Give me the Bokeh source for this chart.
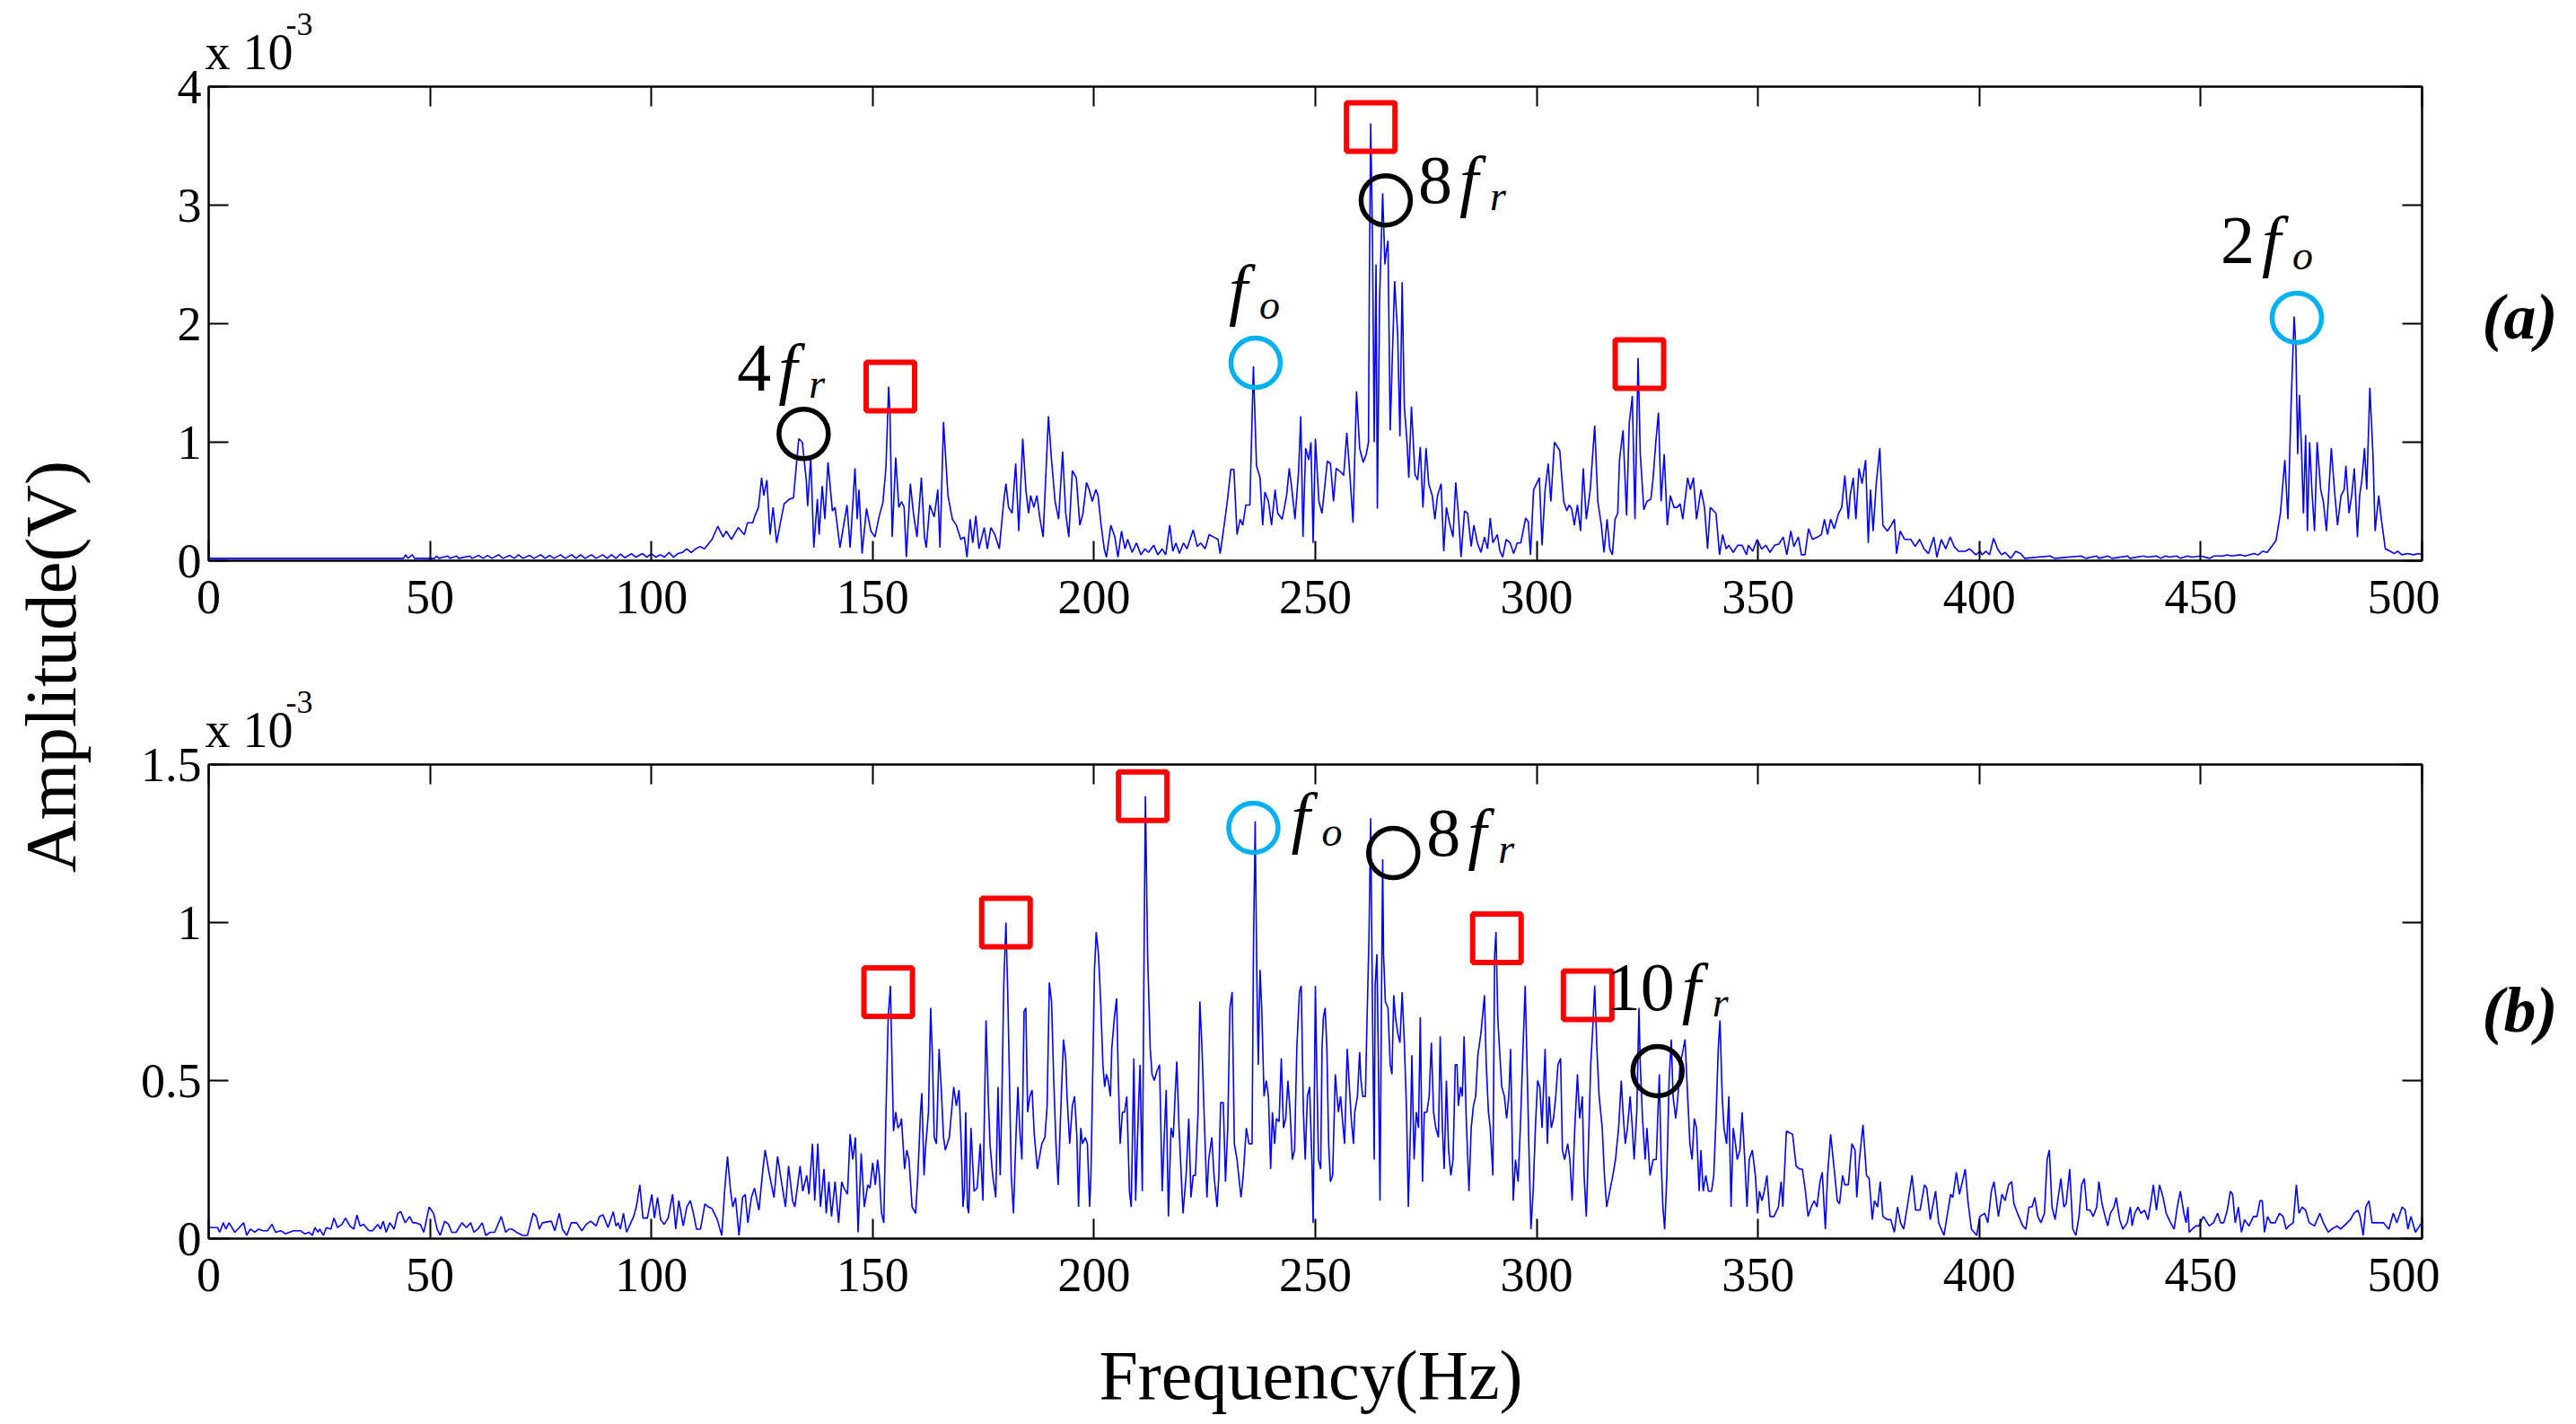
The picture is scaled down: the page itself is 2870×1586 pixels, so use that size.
from bokeh.plotting import figure
from bokeh.layouts import row, column
from bokeh.models import Range1d, FixedTicker, LinearAxis, Title, CustomJSTickFormatter
from bokeh.core.properties import value
from bokeh.embed import file_html
from bokeh.resources import INLINE

SERIF = "Liberation Serif"

# spectrum (a): frequency in Hz, amplitude in units of 1e-3 V
freq_a = [
    0, 44, 44.5, 45, 46, 46.5, 51, 51.5, 52, 54,
    54.5, 56, 56.5, 59, 59.5, 61, 62, 63, 64, 65.5,
    66.5, 68, 69, 70, 71, 72.5, 73.5, 75, 76, 77,
    78, 79.5, 80.5, 82, 83, 84, 85, 86.5, 87.5, 89,
    90, 91, 92, 93, 94, 95.5, 96.5, 98, 99, 100,
    101, 102, 103, 104, 105, 106, 107, 108, 109, 110,
    111, 112, 113.7, 115.0, 116.2, 116.9, 118.1, 119.6, 121.0, 121.7,
    122.9, 123.4, 124.2, 124.9, 125.4, 126.1, 126.8, 127.5, 128.3, 129.2,
    130.0, 131.2, 132.1, 133.3, 134.1, 135.0, 135.3, 136.0, 136.7, 137.5,
    137.9, 138.6, 139.2, 139.9, 140.9, 141.5, 142.6, 144.2, 144.9, 146.0,
    146.5, 146.9, 147.6, 148.6, 149.6, 150.5, 151.5, 152.3, 153.0, 153.6,
    153.9, 154.4, 155.2, 155.9, 156.5, 157.1, 157.6, 158.5, 159.2, 160.0,
    161.0, 161.7, 162.1, 162.9, 163.9, 164.7, 165.2, 166.0, 167.0, 168.0,
    168.9, 169.9, 170.7, 171.3, 172.0, 172.6, 173.3, 174.0, 175.2, 175.9,
    176.7, 177.6, 178.6, 179.6, 180.1, 180.7, 181.5, 182.3, 183.0, 183.9,
    184.6, 185.2, 185.7, 186.4, 187.1, 187.8, 188.5, 189.7, 190.4, 191.2,
    192.0, 192.9, 193.6, 194.3, 195.1, 196.0, 196.8, 197.5, 198.3, 198.9,
    199.6, 200.4, 200.9, 201.6, 202.3, 202.8, 203.8, 204.7, 205.4, 206.2,
    207.0, 207.6, 208.6, 209.6, 210.6, 211.5, 212.3, 213.5, 214.4, 215.4,
    216.2, 217.1, 217.8, 218.5, 219.3, 220.2, 221.0, 222.4, 223.3, 224.1,
    225.1, 226.0, 227.0, 228.0, 228.5, 229.4, 230.1, 230.9, 231.6, 232.3,
    233.0, 233.6, 234.3, 235.2, 236.0, 236.7, 237.5, 238.1, 238.6, 239.4,
    240.1, 240.9, 241.5, 242.5, 243.5, 244.1, 244.7, 245.4, 246.2, 246.7,
    247.2, 247.8, 248.5, 249.0, 249.5, 250.0, 250.8, 251.5, 252.7, 253.4,
    254.1, 254.7, 255.7, 256.4, 257.1, 257.8, 258.5, 259.3, 260.0, 260.8,
    261.5, 262.0, 262.2, 262.5, 262.9, 263.3, 263.7, 264.0, 264.5, 265.2,
    265.7, 266.0, 266.4, 266.9, 267.9, 268.6, 269.1, 269.6, 270.1, 270.7,
    271.1, 271.7, 272.5, 273.1, 273.7, 274.3, 275.0, 275.6, 276.4, 277.0,
    277.6, 278.4, 279.0, 279.6, 280.3, 281.1, 281.7, 282.3, 282.9, 283.7,
    284.4, 285.2, 285.8, 286.6, 287.4, 288.2, 288.9, 289.5, 290.1, 291.1,
    291.7, 292.3, 293.1, 294.0, 294.8, 295.6, 296.4, 297.5, 298.1, 298.6,
    299.3, 300.6, 301.2, 301.9, 302.6, 303.2, 304.0, 305.2, 306.1, 306.8,
    307.3, 307.9, 308.5, 309.2, 309.9, 310.5, 311.2, 312.1, 313.1, 313.8,
    314.6, 315.2, 315.9, 316.5, 317.1, 317.7, 318.3, 318.7, 319.5, 320.3,
    320.9, 321.6, 322.2, 322.9, 323.4, 324.2, 324.9, 325.8, 326.3, 326.9,
    327.5, 328.1, 328.8, 329.5, 330.2, 331.0, 331.7, 332.4, 333.0, 334.1,
    334.7, 335.4, 336.1, 337.1, 337.9, 338.6, 339.2, 340.5, 341.3, 342.0,
    342.8, 343.4, 344.4, 345.4, 346.4, 347.4, 347.8, 348.8, 349.8, 350.8,
    351.8, 352.7, 353.7, 354.7, 355.7, 356.5, 357.4, 358.1, 359.1, 359.8,
    360.6, 361.4, 362.3, 363.5, 364.3, 365.0, 365.7, 366.4, 367.2, 368.2,
    368.9, 369.6, 370.4, 370.8, 371.5, 372.1, 372.8, 373.5, 374.3, 374.9,
    375.4, 376.0, 376.7, 377.5, 378.2, 379.2, 380.1, 380.8, 381.3, 382.1,
    383.1, 384.5, 385.5, 386.5, 387.5, 388.5, 389.7, 390.4, 391.4, 392.4,
    393.4, 394.3, 395.3, 396.8, 397.8, 399.2, 400.2, 400.6, 401.5, 402.3,
    403.2, 404.1, 405.0, 405.8, 407.1, 408.2, 409.3, 410.2, 416, 417,
    423, 424, 426.5, 427, 429, 430, 433.5, 434, 437, 438,
    440, 441, 442, 443, 444.5, 445.5, 447, 448, 450, 452,
    453, 455, 456, 457, 459, 460, 462, 463, 464, 465,
    466, 467, 468.0, 469.0, 469.7, 470.4, 471.1, 471.5, 471.9, 472.3,
    472.8, 473.2, 473.7, 474.1, 474.6, 475.1, 475.7, 476.3, 477.1, 477.7,
    478.4, 479.5, 480.2, 480.9, 481.7, 482.4, 482.8, 483.5, 484.1, 484.7,
    485.4, 485.9, 486.4, 487.0, 487.5, 488.2, 488.9, 489.4, 490.2, 490.8,
    491.7, 492.8, 493.7, 494.5, 495.4, 496.7, 498.0, 499.3, 500,
]
amp_a = [
    0.02, 0.02, 0.05, 0.02, 0.05, 0.02, 0.02, 0.04, 0.02, 0.04,
    0.02, 0.04, 0.02, 0.04, 0.02, 0.045, 0.02, 0.045, 0.02, 0.05,
    0.02, 0.045, 0.02, 0.05, 0.02, 0.045, 0.02, 0.05, 0.02, 0.045,
    0.02, 0.05, 0.02, 0.05, 0.02, 0.05, 0.02, 0.05, 0.02, 0.05,
    0.02, 0.05, 0.02, 0.055, 0.025, 0.06, 0.03, 0.06, 0.03, 0.06,
    0.03, 0.05, 0.03, 0.07, 0.03, 0.06, 0.07, 0.1, 0.07, 0.1,
    0.12, 0.1, 0.18, 0.29, 0.2, 0.25, 0.18, 0.28, 0.22, 0.32,
    0.32, 0.38, 0.45, 0.7, 0.55, 0.68, 0.22, 0.45, 0.15, 0.33,
    0.48, 0.52, 0.53, 1.03, 1.0, 0.68, 0.46, 0.87, 0.11, 0.52,
    0.22, 0.63, 0.35, 0.83, 0.42, 0.45, 0.11, 0.47, 0.11, 0.78,
    0.35, 0.6, 0.06, 0.44, 0.25, 0.2, 0.38, 0.49, 0.79, 1.47,
    1.25, 0.2, 0.87, 0.45, 0.5, 0.45, 0.03, 0.65, 0.4, 0.2,
    0.7, 0.2, 0.11, 0.47, 0.37, 0.6, 0.11, 1.17, 0.55, 0.35,
    0.3, 0.18, 0.2, 0.03, 0.35, 0.15, 0.38, 0.1, 0.28, 0.1,
    0.28, 0.22, 0.1, 0.5, 0.65, 0.45, 0.4, 0.82, 0.25, 1.03,
    0.6, 0.4, 0.55, 0.45, 0.55, 0.35, 0.2, 1.22, 0.85, 0.5,
    0.35, 0.92, 0.4, 0.2, 0.76, 0.7, 0.3, 0.4, 0.66, 0.6,
    0.5, 0.6, 0.55, 0.3, 0.1, 0.03, 0.3, 0.2, 0.03, 0.25,
    0.1, 0.18, 0.07, 0.15, 0.05, 0.1, 0.07, 0.13, 0.05, 0.1,
    0.05, 0.3, 0.08, 0.15, 0.06, 0.15, 0.1, 0.26, 0.12, 0.15,
    0.1, 0.22, 0.2, 0.18, 0.06, 0.3, 0.5, 0.77, 0.77, 0.22,
    0.35, 0.3, 0.47, 0.47, 1.64, 0.8, 0.7, 0.3, 0.58, 0.5,
    0.3, 0.6, 0.4, 0.35, 0.55, 0.78, 0.6, 0.35, 0.75, 1.22,
    0.2, 0.95, 0.85, 1.0, 0.15, 1.03, 0.5, 0.4, 0.84, 0.82,
    0.5, 0.78, 0.75, 0.72, 1.08, 0.72, 0.32, 1.43, 0.95, 0.83,
    0.9, 1.0, 2.4, 3.69, 2.7, 1.0, 2.5, 0.44, 2.2, 3.1,
    2.5, 2.6, 2.7, 1.1, 2.36, 1.9, 1.05, 2.35, 1.3, 1.0,
    0.7, 1.3, 0.73, 0.68, 0.96, 0.45, 0.95, 0.65, 0.55, 0.35,
    0.55, 0.65, 0.08, 0.45, 0.32, 0.2, 0.66, 0.4, 0.03, 0.42,
    0.4, 0.12, 0.3, 0.15, 0.07, 0.2, 0.1, 0.36, 0.15, 0.22,
    0.08, 0.03, 0.18, 0.15, 0.06, 0.15, 0.15, 0.36, 0.33, 0.05,
    0.6, 0.7, 0.13, 0.6, 0.82, 0.5, 1.0, 0.93, 0.5, 0.42,
    0.47, 0.44, 0.3, 0.47, 0.25, 0.78, 0.35, 0.6, 1.14, 0.5,
    0.3, 0.07, 0.35, 0.1, 0.05, 0.35, 0.4, 0.85, 1.1, 0.38,
    1.16, 1.39, 0.35, 1.71, 0.9, 0.43, 0.5, 0.52, 0.7, 1.0,
    1.25, 0.5, 0.9, 0.3, 0.55, 0.45, 0.45, 0.48, 0.35, 0.7,
    0.6, 0.7, 0.35, 0.6, 0.45, 0.1, 0.45, 0.4, 0.05, 0.22,
    0.1, 0.13, 0.07, 0.13, 0.13, 0.05, 0.13, 0.08, 0.18, 0.1,
    0.13, 0.07, 0.13, 0.14, 0.2, 0.05, 0.25, 0.12, 0.2, 0.05,
    0.05, 0.27, 0.18, 0.2, 0.22, 0.35, 0.22, 0.35, 0.27, 0.4,
    0.45, 0.72, 0.35, 0.55, 0.7, 0.35, 0.78, 0.65, 0.85, 0.15,
    0.6, 0.25, 0.65, 0.95, 0.3, 0.25, 0.3, 0.35, 0.06, 0.25,
    0.18, 0.18, 0.12, 0.18, 0.1, 0.06, 0.2, 0.03, 0.18, 0.1,
    0.2, 0.12, 0.08, 0.08, 0.1, 0.05, 0.08, 0.05, 0.08, 0.05,
    0.19, 0.1, 0.05, 0.07, 0.02, 0.08, 0.06, 0.02, 0.04, 0.02,
    0.04, 0.02, 0.04, 0.02, 0.04, 0.02, 0.04, 0.02, 0.04, 0.03,
    0.04, 0.02, 0.04, 0.03, 0.04, 0.02, 0.04, 0.03, 0.04, 0.02,
    0.04, 0.04, 0.05, 0.04, 0.05, 0.04, 0.06, 0.05, 0.08, 0.07,
    0.12, 0.17, 0.4, 0.85, 0.35, 1.3, 2.06, 1.8, 0.9, 1.4,
    0.9, 0.4, 1.06, 0.25, 1.0, 0.6, 0.25, 1.0, 0.6, 0.5,
    0.25, 0.95, 0.6, 0.3, 0.55, 0.6, 0.8, 0.4, 0.55, 0.78,
    0.2, 0.55, 0.68, 0.95, 0.6, 1.46, 0.9, 0.25, 0.55, 0.35,
    0.1, 0.08, 0.06, 0.08, 0.05, 0.06, 0.05, 0.06, 0.05,
]

# spectrum (b)
freq_b = [
    0, 2.0, 2.5, 3.3, 3.9, 4.6, 5.9, 6.9, 7.9, 8.6,
    9.4, 10.4, 11.3, 12.3, 13.3, 14.3, 15.1, 16.3, 17.3, 18.2,
    19.2, 20.7, 21.7, 22.7, 23.4, 24.0, 24.7, 25.1, 25.9, 26.6,
    27.6, 28.3, 29.1, 30.1, 30.9, 31.9, 32.8, 33.5, 34.2, 35.0,
    36.2, 37.0, 38.2, 38.8, 39.4, 40.1, 40.9, 41.9, 42.7, 43.4,
    44.4, 45.4, 46.1, 46.8, 47.8, 48.6, 49.8, 50.8, 51.6, 52.3,
    53.3, 54.2, 54.9, 55.9, 57.2, 58.2, 59.2, 59.9, 60.8, 61.8,
    62.6, 63.6, 64.6, 66.1, 67.1, 67.8, 68.5, 69.5, 71.0, 72.0,
    73.3, 74.0, 74.7, 75.4, 77.4, 78.2, 79.2, 79.9, 80.9, 81.9,
    83.1, 84.3, 85.3, 86.3, 87.5, 88.3, 89.1, 90.2, 91.4, 92.0,
    92.5, 93.0, 93.7, 94.4, 95.2, 96.0, 96.6, 97.4, 98.1, 99.1,
    100.1, 100.7, 101.4, 102.1, 102.9, 103.8, 104.8, 105.5, 106.2, 107.2,
    108.0, 108.8, 109.5, 110.2, 111.1, 112.1, 112.9, 113.7, 114.9, 115.9,
    116.6, 117.2, 117.9, 118.4, 119.0, 119.8, 120.6, 121.2, 121.8, 122.6,
    123.3, 124.3, 125.2, 125.7, 126.7, 127.7, 128.5, 129.5, 130.3, 131.0,
    131.9, 132.4, 133.6, 134.2, 135.1, 135.6, 136.4, 136.9, 137.6, 138.2,
    139.0, 139.5, 140.1, 140.7, 141.5, 142.3, 143.0, 143.5, 144.3, 144.9,
    145.5, 146.1, 146.7, 147.4, 148.1, 148.9, 149.4, 150.0, 150.6, 151.1,
    151.5, 152.0, 152.5, 153.0, 153.5, 154.0, 154.3, 154.7, 155.2, 155.7,
    156.2, 156.5, 157.2, 157.7, 158.2, 158.9, 159.7, 160.2, 160.8, 161.1,
    161.6, 161.9, 162.6, 163.1, 163.5, 163.9, 164.4, 165.0, 165.5, 166.0,
    166.4, 167.3, 167.8, 168.3, 168.9, 169.5, 170.0, 170.4, 170.7, 171.0,
    171.4, 171.7, 172.2, 172.9, 173.6, 174.3, 174.9, 175.6, 176.1, 176.5,
    177.1, 177.8, 178.3, 178.8, 179.2, 179.6, 180.1, 180.5, 180.9, 181.3,
    181.8, 182.3, 182.8, 183.2, 183.7, 184.2, 184.6, 185.0, 185.5, 186.0,
    186.5, 187.2, 188.2, 188.9, 189.4, 189.9, 190.4, 190.9, 191.4, 191.9,
    192.6, 193.1, 193.6, 193.9, 194.5, 195.1, 195.6, 196.1, 196.5, 197.0,
    197.4, 198.0, 198.5, 199.0, 199.3, 199.8, 200.1, 200.5, 201.0, 201.5,
    202.0, 202.4, 202.8, 203.2, 203.7, 204.0, 204.6, 205.1, 205.5, 205.9,
    206.4, 206.9, 207.4, 208.0, 208.4, 209.0, 209.4, 210.0, 210.4, 210.9,
    211.3, 211.6, 211.8, 212.1, 212.7, 213.1, 213.6, 214.2, 214.8, 215.4,
    215.8, 216.3, 216.8, 217.4, 217.9, 218.3, 218.7, 219.2, 219.7, 220.1,
    220.8, 221.4, 221.9, 222.4, 222.9, 223.5, 223.9, 224.4, 224.9, 225.5,
    225.9, 226.6, 227.1, 227.8, 228.2, 228.6, 229.2, 229.7, 230.2, 230.7,
    231.2, 231.7, 232.3, 233.2, 233.7, 234.4, 235.0, 235.7, 236.0, 236.4,
    236.8, 237.1, 237.5, 237.9, 238.4, 238.9, 239.4, 239.9, 240.3, 240.8,
    241.2, 241.8, 242.3, 242.8, 243.3, 243.8, 244.3, 244.8, 245.3, 245.8,
    246.4, 246.8, 247.3, 247.7, 248.2, 248.7, 249.2, 249.5, 250.0, 250.3,
    250.7, 251.2, 251.5, 251.8, 252.2, 252.6, 253.0, 253.4, 253.9, 254.5,
    254.9, 255.2, 255.7, 256.1, 256.6, 256.9, 257.2, 257.6, 258.1, 258.6,
    258.9, 259.5, 260.0, 260.3, 260.7, 261.3, 261.6, 262.1, 262.5, 262.7,
    263.0, 263.3, 263.5, 263.9, 264.2, 264.6, 264.9, 265.2, 265.4, 265.8,
    266.4, 266.9, 267.3, 267.7, 268.1, 268.6, 269.1, 269.6, 270.1, 270.6,
    271.0, 271.5, 271.8, 272.3, 272.8, 273.3, 273.7, 274.2, 274.6, 275.2,
    275.7, 276.2, 276.7, 277.2, 277.8, 278.2, 278.7, 279.1, 279.6, 280.1,
    280.6, 281.1, 281.6, 282.0, 282.3, 282.8, 283.2, 283.6, 284.1, 284.7,
    285.2, 285.7, 286.2, 286.7, 287.4, 288.2, 288.6, 289.1, 289.5, 290.1,
    290.5, 290.8, 291.2, 291.6, 292.1, 292.7, 293.2, 293.7, 294.1, 294.7,
    295.2, 295.8, 296.3, 296.9, 297.4, 297.9, 298.3, 298.7, 299.2, 299.7,
    300.2, 300.7, 301.2, 301.9, 302.4, 302.8, 303.3, 303.8, 304.3, 304.8,
    305.4, 305.8, 306.3, 307.0, 307.5, 308.0, 308.6, 309.2, 309.7, 310.3,
    310.7, 311.2, 311.7, 312.2, 312.6, 313.1, 313.6, 314.1, 314.8, 315.3,
    315.8, 316.5, 317.2, 317.8, 318.5, 319.1, 319.5, 320.0, 320.5, 321.1,
    321.6, 322.0, 322.6, 323.1, 323.4, 323.9, 324.5, 324.9, 325.6, 326.3,
    327.0, 327.7, 328.1, 328.5, 328.9, 329.4, 329.9, 330.4, 330.8, 331.4,
    331.9, 332.4, 333.1, 333.5, 334.1, 334.6, 335.1, 335.6, 336.1, 336.7,
    337.1, 337.6, 338.2, 338.8, 339.5, 340.0, 340.5, 341.0, 341.4, 341.9,
    342.3, 342.9, 343.4, 343.9, 344.4, 344.9, 345.3, 345.9, 346.4, 347.0,
    347.5, 348.0, 348.7, 349.4, 349.9, 350.3, 350.9, 351.4, 352.0, 352.7,
    353.6, 354.6, 355.2, 355.6, 356.4, 357.8, 358.6, 359.4, 360.0, 360.7,
    361.3, 362.0, 362.7, 363.3, 364.0, 364.5, 365.2, 365.7, 366.4, 367.2,
    367.9, 368.4, 369.1, 369.6, 370.4, 371.2, 371.9, 372.3, 372.9, 373.7,
    374.5, 375.1, 375.8, 376.3, 377.0, 377.6, 378.2, 379.2, 380.0, 380.8,
    381.5, 382.2, 382.9, 383.7, 384.8, 385.6, 386.6, 387.6, 388.1, 388.9,
    390.1, 390.8, 392.0, 393.5, 394.0, 394.8, 395.5, 396.8, 397.4, 398.2,
    399.4, 400.1, 401.2, 401.9, 402.7, 403.3, 404.3, 405.1, 405.8, 406.6,
    407.3, 407.8, 408.6, 409.8, 410.5, 411.2, 411.9, 412.5, 413.2, 413.9,
    414.7, 415.3, 415.8, 416.4, 417.1, 417.8, 418.4, 419.1, 419.6, 420.4,
    421.1, 421.8, 422.5, 423.1, 423.7, 424.3, 425.0, 425.7, 426.5, 427.0,
    427.7, 428.4, 429.0, 429.6, 430.4, 430.9, 431.7, 432.4, 433.4, 434.1,
    434.5, 435.1, 435.8, 436.5, 437.3, 438.1, 438.8, 439.3, 440.0, 440.7,
    441.5, 442.2, 443.2, 444.0, 444.7, 445.4, 446.2, 446.7, 447.1, 447.4,
    448.1, 448.9, 449.6, 450.6, 451.9, 452.9, 453.8, 454.5, 455.2, 456.0,
    456.7, 457.2, 457.8, 458.5, 459.2, 459.9, 460.9, 461.9, 462.7, 463.4,
    463.9, 464.4, 465.1, 465.8, 466.8, 467.8, 468.6, 469.3, 469.9, 470.9,
    471.6, 472.2, 472.9, 473.7, 474.5, 475.7, 476.9, 477.7, 478.8, 479.6,
    480.8, 481.6, 483.1, 483.8, 484.6, 485.5, 486.0, 486.7, 487.3, 488.0,
    488.7, 490.0, 491.3, 492.5, 493.5, 494.3, 495.5, 496.2, 496.8, 497.5,
    498.5, 499.9, 500,
]
amp_b = [
    0.035, 0.035, 0.02, 0.05, 0.03, 0.05, 0.02, 0.035, 0.05, 0.01,
    0.03, 0.02, 0.03, 0.025, 0.025, 0.045, 0.02, 0.025, 0.015, 0.02,
    0.025, 0.025, 0.015, 0.02, 0.01, 0.035, 0.02, 0.03, 0.01, 0.035,
    0.03, 0.065, 0.035, 0.045, 0.065, 0.04, 0.03, 0.075, 0.04, 0.045,
    0.025, 0.025, 0.045, 0.03, 0.055, 0.02, 0.05, 0.03, 0.08, 0.085,
    0.05, 0.07, 0.05, 0.05, 0.045, 0.02, 0.1, 0.08, 0.03, 0.01,
    0.055, 0.045, 0.02, 0.02, 0.05, 0.035, 0.05, 0.02, 0.03, 0.05,
    0.01, 0.02, 0.02, 0.07, 0.02, 0.03, 0.03, 0.02, 0.01, 0.01,
    0.08, 0.07, 0.03, 0.05, 0.055, 0.025, 0.08, 0.03, 0.01, 0.05,
    0.05, 0.025, 0.045, 0.055, 0.04, 0.07, 0.075, 0.035, 0.085, 0.04,
    0.05, 0.03, 0.08, 0.02, 0.045, 0.07, 0.1, 0.17, 0.065, 0.065,
    0.14, 0.065, 0.13, 0.06, 0.045, 0.065, 0.14, 0.03, 0.12, 0.04,
    0.1, 0.12, 0.08, 0.03, 0.03, 0.11, 0.1, 0.095, 0.06, 0.01,
    0.16, 0.26, 0.15, 0.1, 0.13, 0.01, 0.13, 0.14, 0.05, 0.13,
    0.16, 0.09, 0.22, 0.28, 0.2, 0.13, 0.26, 0.17, 0.1, 0.23,
    0.12, 0.1, 0.23, 0.15, 0.2, 0.14, 0.3, 0.12, 0.3, 0.1,
    0.22, 0.08, 0.18, 0.07, 0.18, 0.05, 0.18, 0.16, 0.14, 0.33,
    0.25, 0.32, 0.02, 0.27, 0.1, 0.17, 0.16, 0.24, 0.17, 0.25,
    0.2, 0.08, 0.05, 0.4, 0.7, 0.8, 0.6, 0.34, 0.4, 0.35,
    0.36, 0.38, 0.22, 0.28, 0.25, 0.1, 0.08, 0.2, 0.4, 0.46,
    0.2, 0.28, 0.4, 0.73, 0.57, 0.32, 0.3, 0.6, 0.47, 0.32,
    0.28, 0.32, 0.4, 0.48, 0.42, 0.47, 0.3, 0.1, 0.15, 0.4,
    0.1, 0.08, 0.35, 0.15, 0.16, 0.3, 0.12, 0.69, 0.45, 0.3,
    0.2, 0.13, 0.48, 0.2, 0.45, 0.8, 1.0, 0.78, 0.5, 0.2,
    0.08, 0.3, 0.48, 0.35, 0.25, 0.72, 0.73, 0.4, 0.45, 0.47,
    0.33, 0.22, 0.3, 0.32, 0.42, 0.81, 0.75, 0.5, 0.3, 0.17,
    0.45, 0.63, 0.57, 0.45, 0.3, 0.42, 0.45, 0.33, 0.1, 0.35,
    0.3, 0.32, 0.3, 0.1, 0.2, 0.6, 0.85, 0.97, 0.9, 0.75,
    0.55, 0.48, 0.52, 0.5, 0.45, 0.6, 0.7, 0.76, 0.5, 0.3,
    0.4, 0.4, 0.45, 0.15, 0.1, 0.57, 0.12, 0.4, 0.55, 0.15,
    0.9, 1.4, 1.2, 0.9, 0.6, 0.52, 0.5, 0.53, 0.55, 0.15,
    0.3, 0.47, 0.07, 0.35, 0.32, 0.45, 0.56, 0.35, 0.2, 0.08,
    0.2, 0.38, 0.13, 0.2, 0.2, 0.4, 0.75, 0.6, 0.38, 0.13,
    0.25, 0.32, 0.2, 0.1, 0.2, 0.43, 0.43, 0.18, 0.35, 0.73,
    0.78, 0.3, 0.25, 0.13, 0.2, 0.35, 0.3, 0.3, 0.9, 1.32,
    0.8, 0.55, 0.85, 0.72, 0.45, 0.5, 0.45, 0.22, 0.4, 0.3,
    0.38, 0.37, 0.57, 0.35, 0.38, 0.5, 0.4, 0.25, 0.28, 0.6,
    0.78, 0.8, 0.4, 0.25, 0.45, 0.48, 0.25, 0.05, 0.8, 0.55,
    0.25, 0.22, 0.6, 0.7, 0.73, 0.6, 0.3, 0.18, 0.2, 0.52,
    0.45, 0.4, 0.45, 0.38, 0.3, 0.45, 0.6, 0.5, 0.38, 0.3,
    0.4, 0.45, 0.59, 0.5, 0.45, 0.45, 0.65, 0.95, 1.33, 1.0,
    0.6, 0.25, 0.8, 0.9, 0.6, 0.12, 0.7, 1.2, 0.9, 0.75,
    0.73, 0.55, 0.52, 0.77, 0.7, 0.65, 0.62, 0.78, 0.62, 0.4,
    0.1, 0.35, 0.58, 0.25, 0.4, 0.35, 0.7, 0.18, 0.4, 0.4,
    0.45, 0.62, 0.4, 0.35, 0.32, 0.64, 0.35, 0.22, 0.5, 0.28,
    0.2, 0.25, 0.55, 0.55, 0.42, 0.48, 0.45, 0.64, 0.37, 0.15,
    0.35, 0.42, 0.45, 0.58, 0.65, 0.77, 0.55, 0.4, 0.35, 0.2,
    0.9, 0.97, 0.7, 0.6, 0.48, 0.45, 0.38, 0.45, 0.6, 0.12,
    0.25, 0.18, 0.35, 0.6, 0.8, 0.5, 0.25, 0.03, 0.15, 0.35,
    0.5, 0.48, 0.35, 0.6, 0.3, 0.45, 0.35, 0.38, 0.45, 0.55,
    0.57, 0.28, 0.25, 0.3, 0.25, 0.12, 0.35, 0.52, 0.38, 0.45,
    0.2, 0.07, 0.3, 0.55, 0.65, 0.8, 0.6, 0.45, 0.35, 0.2,
    0.1, 0.15, 0.2, 0.25, 0.35, 0.5, 0.4, 0.3, 0.35, 0.45,
    0.35, 0.25, 0.4, 0.73, 0.55, 0.38, 0.25, 0.35, 0.2, 0.25,
    0.25, 0.52, 0.25, 0.1, 0.03, 0.2, 0.5, 0.63, 0.45, 0.38,
    0.45, 0.55, 0.6, 0.63, 0.45, 0.3, 0.25, 0.38, 0.35, 0.15,
    0.28, 0.15, 0.2, 0.15, 0.15, 0.2, 0.38, 0.6, 0.69, 0.45,
    0.35, 0.3, 0.45, 0.1, 0.35, 0.3, 0.25, 0.28, 0.4, 0.25,
    0.1, 0.25, 0.28, 0.2, 0.08, 0.15, 0.12, 0.15, 0.2, 0.07,
    0.07, 0.1, 0.18, 0.1, 0.34, 0.33, 0.23, 0.22, 0.22, 0.15,
    0.07, 0.1, 0.12, 0.1, 0.18, 0.21, 0.03, 0.2, 0.33, 0.22,
    0.12, 0.11, 0.2, 0.17, 0.17, 0.3, 0.28, 0.13, 0.25, 0.36,
    0.2, 0.19, 0.06, 0.12, 0.1, 0.18, 0.07, 0.06, 0.06, 0.02,
    0.1, 0.05, 0.03, 0.1, 0.2, 0.09, 0.09, 0.17, 0.16, 0.06,
    0.15, 0.05, 0.01, 0.14, 0.13, 0.21, 0.14, 0.22, 0.12, 0.03,
    0.01, 0.07, 0.08, 0.05, 0.15, 0.18, 0.07, 0.14, 0.12, 0.17,
    0.18, 0.11, 0.08, 0.04, 0.03, 0.1, 0.1, 0.13, 0.07, 0.05,
    0.08, 0.25, 0.28, 0.1, 0.06, 0.13, 0.19, 0.1, 0.11, 0.22,
    0.03, 0.01, 0.07, 0.17, 0.19, 0.09, 0.09, 0.07, 0.1, 0.18,
    0.11, 0.07, 0.04, 0.08, 0.1, 0.13, 0.06, 0.03, 0.05, 0.1,
    0.04, 0.08, 0.1, 0.08, 0.09, 0.06, 0.12, 0.17, 0.09, 0.17,
    0.13, 0.08, 0.05, 0.03, 0.1, 0.15, 0.08, 0.05, 0.1, 0.02,
    0.03, 0.04, 0.04, 0.07, 0.04, 0.05, 0.08, 0.05, 0.05, 0.09,
    0.15, 0.14, 0.05, 0.1, 0.02, 0.06, 0.04, 0.07, 0.07, 0.12,
    0.12, 0.02, 0.07, 0.05, 0.05, 0.08, 0.07, 0.03, 0.04, 0.05,
    0.17, 0.08, 0.1, 0.09, 0.05, 0.04, 0.08, 0.05, 0.02, 0.03,
    0.04, 0.03, 0.05, 0.06, 0.08, 0.09, 0.07, 0.01, 0.1, 0.12,
    0.05, 0.05, 0.05, 0.03, 0.08, 0.05, 0.1, 0.09, 0.03, 0.07,
    0.02, 0.05, 0.07,
]

assert len(freq_a) == len(amp_a), (len(freq_a), len(amp_a))
assert len(freq_b) == len(amp_b), (len(freq_b), len(amp_b))

# marked peaks (Hz, x1e-3 V)
sq_a_f = [154.0, 262.5, 323.2]
sq_a_v = [1.47, 3.66, 1.66]
rot_a_f = [134.4, 265.9]
rot_a_v = [1.07, 3.04]
rot_a_num = ["4", "8"]
out_a_f = [236.5, 471.7]
out_a_v = [1.67, 2.05]
out_a_num = ["", "2"]

sq_b_f = [153.5, 180.1, 211.0, 291.0, 311.5]
sq_b_v = [0.78, 1.00, 1.40, 0.95, 0.77]
rot_b_f = [267.6, 327.3]
rot_b_v = [1.22, 0.53]
rot_b_num = ["8", "10"]
out_b_f = [236.0]
out_b_v = [1.30]
out_b_num = [""]

x_ticks = [0, 50, 100, 150, 200, 250, 300, 350, 400, 450, 500]
y_ticks_a = [0, 1, 2, 3, 4]
y_ticks_b = [0, 0.5, 1, 1.5]
y_labels_b = {0: "0", 0.5: "0.5", 1: "1", 1.5: "1.5"}
panel_tags = ["(a)", "(b)"]

PAGE_W, PAGE_H = 2870, 1586
SIDE_W = 138
PLOT_W = 2580
TAG_W = PAGE_W - SIDE_W - PLOT_W
TOP_H, BOT_H = 760, 729
FOOT_H = PAGE_H - TOP_H - BOT_H


def style_axis(ax, standoff):
    ax.axis_line_color = "black"
    ax.axis_line_width = 2
    ax.major_tick_in = 22
    ax.major_tick_out = 0
    ax.major_tick_line_width = 2
    ax.major_tick_line_color = "black"
    ax.minor_tick_line_color = None
    ax.major_label_text_font = SERIF
    ax.major_label_text_font_size = "54px"
    ax.major_label_text_color = "black"
    ax.major_label_standoff = standoff


def mirror(ax):
    # box-style axis on the opposite side: ticks only
    ax.major_label_text_font_size = "0px"
    ax.major_label_standoff = 0


def word(p, x, y, txt, dx, dy, size, style="normal"):
    p.text(x=[x], y=[y], text=[txt], x_offset=dx, y_offset=-dy,
           text_font=value(SERIF), text_font_size=value(size), text_font_style=style,
           text_color="black", text_baseline="alphabetic", text_align="left")


def harmonic(p, x, y, num, sub, dx, dy):
    # "n f_sub" written as number, italic f and italic subscript
    dy += 15
    if num:
        word(p, x, y, num, dx, dy, "76px")
        dx += 38 * len(num) + 8
    word(p, x, y, "f", dx, dy, "76px", "italic")
    word(p, x, y, sub, dx + 34, dy - 17, "46px", "italic")


def strip(width, height, x_end=None):
    s = figure(width=width, height=height, x_range=Range1d(0, x_end or width),
               y_range=Range1d(0, height),
               output_backend="svg", toolbar_location=None, min_border=0, title=None,
               x_axis_type=None, y_axis_type=None)
    s.outline_line_color = None
    s.grid.visible = False
    return s


def panel(freq, amp, ymax, yticks, height, top, bottom, ylabels=None):
    p = figure(width=PLOT_W, height=height, x_range=Range1d(0, 500), y_range=Range1d(0, ymax),
               output_backend="svg", toolbar_location=None, title=None,
               min_border_left=94, min_border_right=20,
               min_border_top=top, min_border_bottom=bottom)
    p.grid.visible = False
    p.outline_line_color = "black"
    p.outline_line_width = 2
    p.background_fill_color = "white"
    p.border_fill_color = "white"

    bottom_ax = p.below[0]
    left_ax = p.left[0]
    bottom_ax.ticker = FixedTicker(ticks=x_ticks)
    left_ax.ticker = FixedTicker(ticks=yticks)
    if ylabels:
        left_ax.major_label_overrides = ylabels
    blank = CustomJSTickFormatter(code="return ''")
    top_ax = LinearAxis(ticker=FixedTicker(ticks=x_ticks), formatter=blank)
    right_ax = LinearAxis(ticker=FixedTicker(ticks=yticks), formatter=blank)
    p.add_layout(top_ax, "above")
    p.add_layout(right_ax, "right")
    style_axis(bottom_ax, 22)
    style_axis(top_ax, 22)
    style_axis(left_ax, 8)
    style_axis(right_ax, 8)
    mirror(top_ax)
    mirror(right_ax)

    # scale factor above the y axis
    p.add_layout(Title(text="x 10", align="left", offset=-4, standoff=15,
                       text_font=SERIF, text_font_size="56px", text_font_style="normal",
                       text_color="black"), "above")
    p.add_layout(Title(text="-3", align="left", offset=86, standoff=-43,
                       text_font=SERIF, text_font_size="36px", text_font_style="normal",
                       text_color="black"), "above")

    p.line(freq, amp, line_color="#0000FF", line_width=1.6)
    return p


pa = panel(freq_a, amp_a, 4, y_ticks_a, TOP_H, 96, 136)
pa.scatter(sq_a_f, sq_a_v, marker="square", size=54, fill_color=None,
           line_color="#FF0000", line_width=6)
pa.scatter(rot_a_f, rot_a_v, marker="circle", size=55, fill_color=None,
           line_color="black", line_width=5.5)
pa.scatter(out_a_f, out_a_v, marker="circle", size=55, fill_color=None,
           line_color="#00B0F0", line_width=5.5)
for (fx, fy, n), (dx, dy) in zip(zip(rot_a_f, rot_a_v, rot_a_num), [(-74, 58), (36, 7)]):
    harmonic(pa, fx, fy, n, "r", dx, dy)
for (fx, fy, n), (dx, dy) in zip(zip(out_a_f, out_a_v, out_a_num), [(-30, 67), (-85, 71)]):
    harmonic(pa, fx, fy, n, "o", dx, dy)

pb = panel(freq_b, amp_b, 1.5, y_ticks_b, BOT_H, 91, 110, y_labels_b)
pb.scatter(sq_b_f, sq_b_v, marker="square", size=54, fill_color=None,
           line_color="#FF0000", line_width=6)
pb.scatter(rot_b_f, rot_b_v, marker="circle", size=55, fill_color=None,
           line_color="black", line_width=5.5)
pb.scatter(out_b_f, out_b_v, marker="circle", size=55, fill_color=None,
           line_color="#00B0F0", line_width=5.5)
for (fx, fy, n), (dx, dy) in zip(zip(rot_b_f, rot_b_v, rot_b_num), [(37, 7), (-57, 78)]):
    harmonic(pb, fx, fy, n, "r", dx, dy)
for (fx, fy, n), (dx, dy) in zip(zip(out_b_f, out_b_v, out_b_num), [(42, -3)]):
    harmonic(pb, fx, fy, n, "o", dx, dy)

# shared x label under the lower panel (its frame lines up with the panels' frames)
foot = strip(PLOT_W, FOOT_H, x_end=500)
foot.text(x=[250], y=[55], x_offset=-5, text=["Frequency(Hz)"],
          text_font=value(SERIF), text_font_size=value("78px"), text_color="black",
          text_align="center", text_baseline="alphabetic")

# shared y label on the left
side = strip(SIDE_W, PAGE_H)
side.text(x=[56], y=[844], text=["Amplitude(V)"], angle=90, angle_units="deg",
          text_font=value(SERIF), text_font_size=value("81px"), text_color="black",
          text_align="center", text_baseline="alphabetic")

# panel tags on the right
tags = strip(TAG_W, PAGE_H)
tags.text(x=[89, 89], y=[1234, 462], text=panel_tags,
          text_font=value(SERIF), text_font_size=value("72px"), text_font_style="bold italic",
          text_color="black", text_align="center", text_baseline="alphabetic")

layout = row(side, column(pa, pb, foot), tags)

with open("out.html", "w") as fh:
    fh.write(file_html(layout, INLINE))
